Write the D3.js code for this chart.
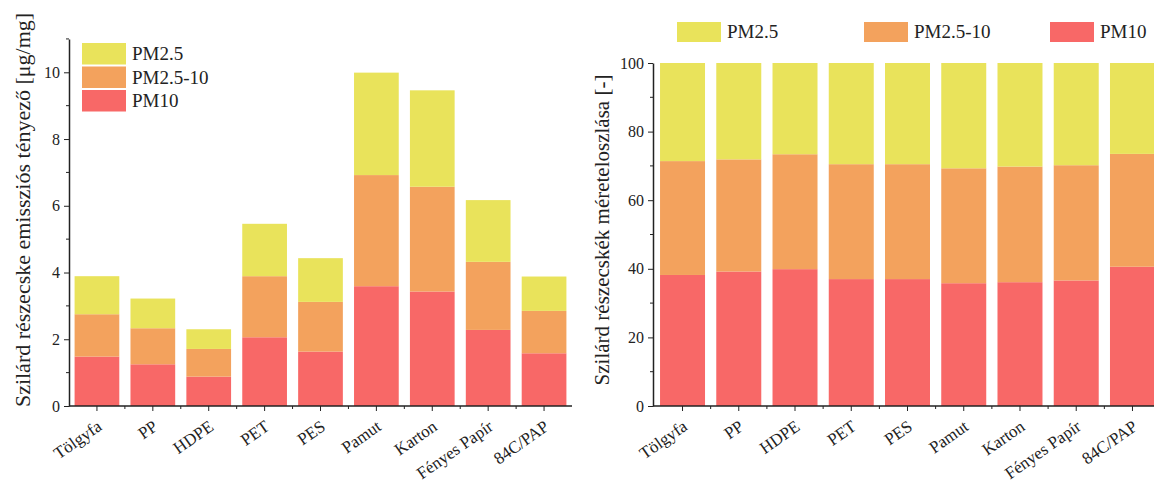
<!DOCTYPE html>
<html>
<head>
<meta charset="utf-8">
<script src="https://cdn.jsdelivr.net/npm/d3@7"></script>
<style>
  body { margin: 0; background: #fff; }
  svg text { font-family: "Times New Roman", "Liberation Serif", Times, serif; fill: #222; }
  .axis path, .axis line { stroke: #222; }
</style>
</head>
<body>
<div id="plot-container"></div>
<script>
// data
var categories = ['Tölgyfa', 'PP', 'HDPE', 'PET', 'PES', 'Pamut', 'Karton', 'Fényes Papír', '84C/PAP'];
var seriesNames = ['PM10', 'PM2.5-10', 'PM2.5'];
var colors = {'PM10': '#f86867', 'PM2.5-10': '#f3a25d', 'PM2.5': '#e9e35b'};

// emission factor [ug/mg]
var pm10 = [1.48, 1.25, 0.88, 2.06, 1.63, 3.59, 3.43, 2.28, 1.58];
var pm25_10 = [1.27, 1.08, 0.83, 1.83, 1.49, 3.33, 3.14, 2.04, 1.27];
var pm25 = [1.14, 0.89, 0.59, 1.57, 1.31, 3.07, 2.89, 1.85, 1.03];

// size distribution [%]
var pm10Pct = [38.2, 39.2, 39.9, 37.0, 37.0, 35.8, 36.1, 36.6, 40.6];
var pm25_10Pct = [33.2, 32.7, 33.5, 33.5, 33.5, 33.5, 33.7, 33.6, 32.9];
var pm25Pct = [28.6, 28.1, 26.6, 29.5, 29.5, 30.7, 30.2, 29.8, 26.5];

var leftTicks = [0, 2, 4, 6, 8, 10];
var rightTicks = [0, 20, 40, 60, 80, 100];

var totalWidth = 1154, totalHeight = 485;
var svg = d3.select('#plot-container').append('svg').attr('width', totalWidth).attr('height', totalHeight);

function table(a, b, c) {
  return categories.map(function(d, i) { return {cat: d, 'PM10': a[i], 'PM2.5-10': b[i], 'PM2.5': c[i]}; });
}

function drawPanel(opt) {
  var x = d3.scaleBand().domain(categories).range(opt.xRange).paddingInner(0.2).paddingOuter(opt.outer);
  var y = d3.scaleLinear().domain(opt.yDomain).range([406, opt.yTop]);
  var stacked = d3.stack().keys(seriesNames)(opt.rows);

  var g = svg.append('g');
  g.selectAll('g.series').data(stacked).enter().append('g').attr('class', 'series')
    .attr('fill', function(d) { return colors[d.key]; })
    .selectAll('rect').data(function(d) { return d; }).enter().append('rect')
    .attr('x', function(d) { return x(d.data.cat); })
    .attr('width', x.bandwidth())
    .attr('y', function(d) { return y(d[1]); })
    .attr('height', function(d) { return y(d[0]) - y(d[1]); });

  // minor ticks on y
  var minor = d3.range(opt.yDomain[0], opt.yDomain[1] + 0.001, opt.minorStep).filter(function(v) { return opt.ticks.indexOf(v) < 0; });
  g.append('g').attr('transform', 'translate(' + opt.xRange[0] + ',0)')
    .selectAll('line').data(minor).enter().append('line')
    .attr('x1', -3).attr('x2', 0).attr('y1', function(d) { return y(d); }).attr('y2', function(d) { return y(d); })
    .attr('stroke', '#222');

  var yAxis = g.append('g').attr('class', 'axis').attr('transform', 'translate(' + opt.xRange[0] + ',0)')
    .call(d3.axisLeft(y).tickValues(opt.ticks).tickSize(5).tickSizeOuter(0).tickPadding(4));
  yAxis.select('.domain').attr('stroke-width', 1.5);
  yAxis.selectAll('text').style('font-size', '16px');

  // minor ticks on x, between categories
  var bounds = categories.slice(1).map(function(c) { return x(c) - x.step() * 0.1; });
  g.append('g').selectAll('line').data(bounds).enter().append('line')
    .attr('x1', function(d) { return d; }).attr('x2', function(d) { return d; })
    .attr('y1', 406).attr('y2', 409).attr('stroke', '#222');

  var xAxis = g.append('g').attr('class', 'axis').attr('transform', 'translate(0,406)')
    .call(d3.axisBottom(x).tickSize(5).tickSizeOuter(0));
  xAxis.select('.domain').attr('stroke-width', 1.5)
    .attr('d', 'M' + opt.xRange[0] + ',0H' + opt.xEnd);
  xAxis.selectAll('text').style('font-size', '17px').style('text-anchor', 'end')
    .attr('x', 0).attr('y', 0).attr('dy', 0).attr('transform', 'translate(6,23) rotate(-35)');

  svg.append('text').attr('transform', 'translate(' + opt.titleX + ',' + opt.titleY + ') rotate(-90)')
    .attr('text-anchor', 'middle').style('font-size', opt.titleSize).text(opt.title);
}

drawPanel({
  rows: table(pm10, pm25_10, pm25), xRange: [69, 572], xEnd: 572, outer: 0.1,
  yDomain: [0, 11], yTop: 406 - 11 * 33.37, ticks: leftTicks, minorStep: 1,
  title: 'Szilárd részecske emissziós tényező [μg/mg]', titleX: 30, titleY: 210, titleSize: '22px'
});

drawPanel({
  rows: table(pm10Pct, pm25_10Pct, pm25Pct), xRange: [653, 1162], xEnd: 1162, outer: 0.125,
  yDomain: [0, 100], yTop: 63, ticks: rightTicks, minorStep: 10,
  title: 'Szilárd részecskék méreteloszlása [-]', titleX: 609, titleY: 230, titleSize: '21px'
});

// left legend, vertical
var legendOrder = ['PM2.5', 'PM2.5-10', 'PM10'];
var leg1 = svg.append('g').selectAll('g').data(legendOrder).enter().append('g')
  .attr('transform', function(d, i) { return 'translate(82,' + (43 + i * 23.5) + ')'; });
leg1.append('rect').attr('width', 44).attr('height', 21.5).attr('fill', function(d) { return colors[d]; });
leg1.append('text').attr('x', 50).attr('y', 17).style('font-size', '19px').text(function(d) { return d; });

// right legend, horizontal
var legX = [677, 864, 1050];
var leg2 = svg.append('g').selectAll('g').data(legendOrder).enter().append('g')
  .attr('transform', function(d, i) { return 'translate(' + legX[i] + ',22)'; });
leg2.append('rect').attr('width', 44).attr('height', 20).attr('fill', function(d) { return colors[d]; });
leg2.append('text').attr('x', 50).attr('y', 16).style('font-size', '19px').text(function(d) { return d; });
</script>
</body>
</html>
